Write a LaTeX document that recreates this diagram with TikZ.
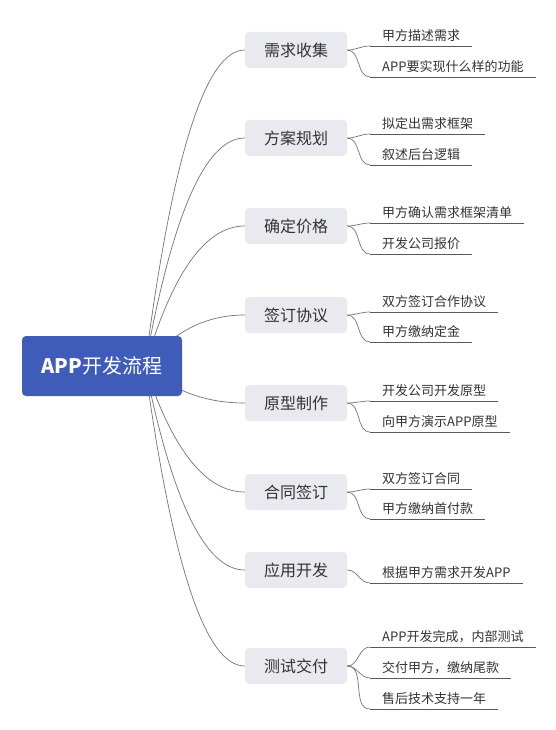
\documentclass[tikz,border=0pt]{standalone}
\usepackage{fontspec}
\setmainfont{Noto Sans CJK SC}
\usetikzlibrary{calc,backgrounds}
\definecolor{rootblue}{RGB}{63,92,184}
\definecolor{stagegray}{RGB}{233,233,240}
\definecolor{inkgray}{RGB}{51,51,51}

\begin{document}
\begin{tikzpicture}[x=1pt,y=-1pt]

\tikzset{
  topic/.style={fill=rootblue, rounded corners=4pt, minimum width=160pt, minimum height=60pt, text=white, font=\fontsize{20}{24}\selectfont},
  stage/.style={fill=stagegray, rounded corners=4pt, minimum width=102pt, minimum height=36pt, text=inkgray, font=\fontsize{16}{19}\selectfont},
  item/.style={anchor=south west, inner xsep=12pt, inner ysep=2pt, text height=10pt, text depth=3pt, text=inkgray, font=\fontsize{13}{15}\selectfont},
  twig/.style={draw=black!55, line width=0.7pt},
  under/.style={draw=black!65, line width=0.8pt},
  sweep/.style={to path={.. controls ($(\tikztostart)!.667!(bend |- \tikztotarget)$) and ($(\tikztotarget)!.667!(bend |- \tikztotarget)$) .. (\tikztotarget)}}
}

\useasboundingbox (0,0) rectangle (556,730);

\node[topic] (root) at (102,366) {{\bfseries APP}开发流程};
\coordinate (hub) at ($(root.center)+(43,0)$);
\coordinate (bend) at ($(hub)+(41,0)$);

\node[stage] (S1) at (296,50) {需求收集};
\node[item] (L11) at (370,46) {甲方描述需求};
\node[item] (L12) at (370,77) {APP要实现什么样的功能};

\node[stage] (S2) at (296,138) {方案规划};
\node[item] (L21) at (370,134) {拟定出需求框架};
\node[item] (L22) at (370,165) {叙述后台逻辑};

\node[stage] (S3) at (296,226) {确定价格};
\node[item] (L31) at (370,223) {甲方确认需求框架清单};
\node[item] (L32) at (370,254) {开发公司报价};

\node[stage] (S4) at (296,315) {签订协议};
\node[item] (L41) at (370,312) {双方签订合作协议};
\node[item] (L42) at (370,342) {甲方缴纳定金};

\node[stage] (S5) at (296,403) {原型制作};
\node[item] (L51) at (370,401) {开发公司开发原型};
\node[item] (L52) at (370,432) {向甲方演示APP原型};

\node[stage] (S6) at (296,492) {合同签订};
\node[item] (L61) at (370,489) {双方签订合同};
\node[item] (L62) at (370,519) {甲方缴纳首付款};

\node[stage] (S7) at (296,570) {应用开发};
\node[item] (L71) at (370,583) {根据甲方需求开发APP};

\node[stage] (S8) at (296,666) {测试交付};
\node[item] (L81) at (370,647) {APP开发完成，内部测试};
\node[item] (L82) at (370,678) {交付甲方，缴纳尾款};
\node[item] (L83) at (370,709) {售后技术支持一年};

% root to stages, behind the boxes
\begin{scope}[on background layer]
\draw[twig, sweep] (hub) to (S1.west);
\draw[twig, sweep] (hub) to (S2.west);
\draw[twig, sweep] (hub) to (S3.west);
\draw[twig, sweep] (hub) to (S4.west);
\draw[twig, sweep] (hub) to (S5.west);
\draw[twig, sweep] (hub) to (S6.west);
\draw[twig, sweep] (hub) to (S7.west);
\draw[twig, sweep] (hub) to (S8.west);
\end{scope}

% stages to items
\draw[twig] (S1.east) to[out=0,in=180] (L11.south west);
\draw[twig] (S1.east) to[out=0,in=180] (L12.south west);
\draw[twig] (S2.east) to[out=0,in=180] (L21.south west);
\draw[twig] (S2.east) to[out=0,in=180] (L22.south west);
\draw[twig] (S3.east) to[out=0,in=180] (L31.south west);
\draw[twig] (S3.east) to[out=0,in=180] (L32.south west);
\draw[twig] (S4.east) to[out=0,in=180] (L41.south west);
\draw[twig] (S4.east) to[out=0,in=180] (L42.south west);
\draw[twig] (S5.east) to[out=0,in=180] (L51.south west);
\draw[twig] (S5.east) to[out=0,in=180] (L52.south west);
\draw[twig] (S6.east) to[out=0,in=180] (L61.south west);
\draw[twig] (S6.east) to[out=0,in=180] (L62.south west);
\draw[twig] (S7.east) to[out=0,in=180] (L71.south west);
\draw[twig] (S8.east) to[out=0,in=180] (L81.south west);
\draw[twig] (S8.east) to[out=0,in=180] (L82.south west);
\draw[twig] (S8.east) to[out=0,in=180] (L83.south west);

% underlines
\draw[under] (L11.south west) -- (L11.south east);
\draw[under] (L12.south west) -- (L12.south east);
\draw[under] (L21.south west) -- (L21.south east);
\draw[under] (L22.south west) -- (L22.south east);
\draw[under] (L31.south west) -- (L31.south east);
\draw[under] (L32.south west) -- (L32.south east);
\draw[under] (L41.south west) -- (L41.south east);
\draw[under] (L42.south west) -- (L42.south east);
\draw[under] (L51.south west) -- (L51.south east);
\draw[under] (L52.south west) -- (L52.south east);
\draw[under] (L61.south west) -- (L61.south east);
\draw[under] (L62.south west) -- (L62.south east);
\draw[under] (L71.south west) -- (L71.south east);
\draw[under] (L81.south west) -- (L81.south east);
\draw[under] (L82.south west) -- (L82.south east);
\draw[under] (L83.south west) -- (L83.south east);

\end{tikzpicture}
\end{document}
